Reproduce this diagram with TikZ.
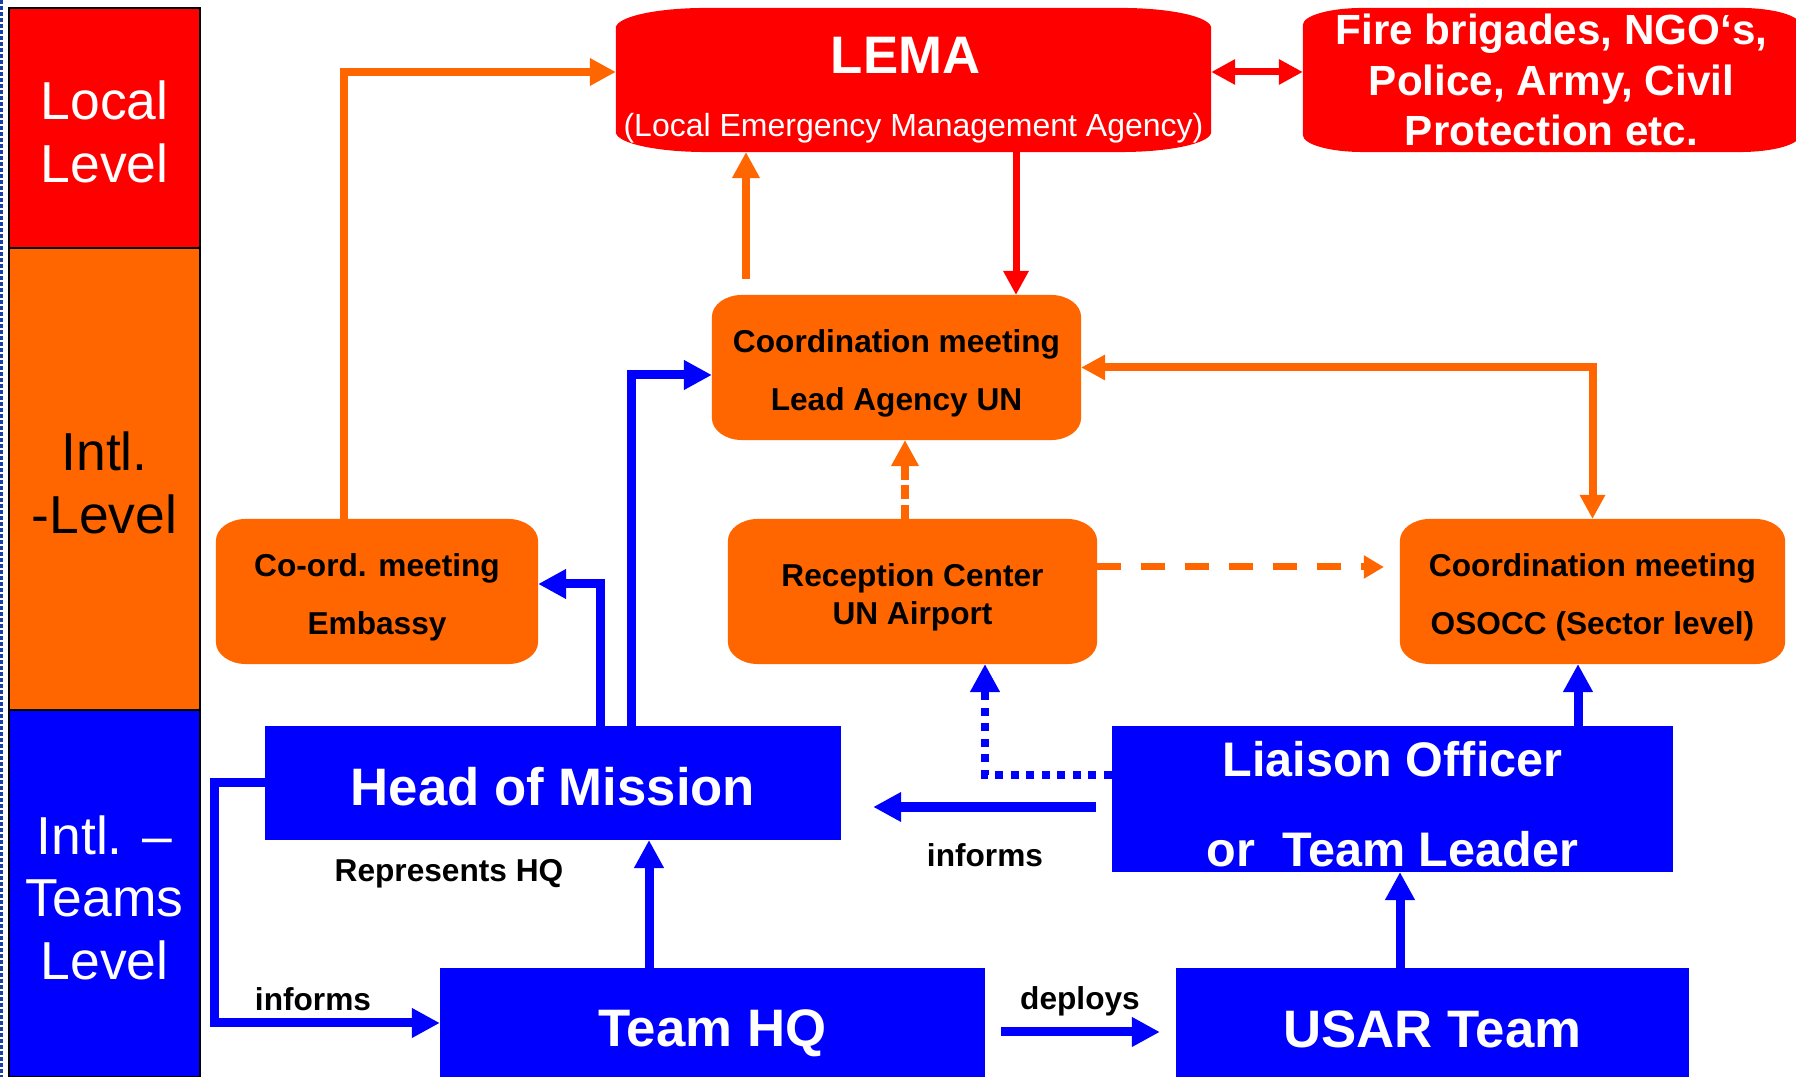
\documentclass[tikz,border=0pt]{standalone}
\usepackage{fontspec}
\setmainfont{Liberation Sans}
\usetikzlibrary{arrows.meta,backgrounds}
\definecolor{lemared}{rgb}{1,0,0}
\definecolor{intlorange}{rgb}{1,0.4,0}
\definecolor{teamblue}{rgb}{0,0,1}
\definecolor{edgeblue}{rgb}{0.1,0.25,0.65}
\tikzstyle{level}=[draw=black, line width=0.02cm, minimum width=1.91cm, inner sep=0pt, outer sep=0pt, align=center, font=\fontsize{15.2}{17.9}\selectfont]
\tikzstyle{box}=[inner sep=0pt, outer sep=0pt, align=center]
\tikzstyle{meeting}=[box, font=\fontsize{9}{16.5}\selectfont\bfseries, minimum height=1.45cm]
\tikzstyle{team}=[box, fill=teamblue, text=white, font=\fontsize{15}{18}\selectfont\bfseries]
\tikzstyle{tag}=[font=\fontsize{9}{11}\selectfont\bfseries, inner sep=0pt]
\tikzstyle{oline}=[draw=intlorange, line width=0.08cm]
\tikzstyle{bline}=[draw=teamblue, line width=0.09cm]
\tikzstyle{oarrow}=[oline, -{Triangle[length=0.26cm,width=0.26cm]}]
\tikzstyle{barrow}=[bline, -{Triangle[length=0.28cm,width=0.28cm]}]
\tikzstyle{rarrow}=[draw=lemared, line width=0.07cm, -{Triangle[length=0.24cm,width=0.24cm]}]
\tikzstyle{twoway}=[{Triangle[length=0.24cm,width=0.24cm]}-{Triangle[length=0.24cm,width=0.24cm]}]
% strut that lowers the first line of a node
\newcommand{\lift}[1]{\rule{0pt}{#1}}
% box with flattened corners, filled behind a node
\newcommand{\canbox}[4]{%
  \fill[#2] ([xshift=#3]#1.north west) -- ([xshift=-#3]#1.north east)
    arc[start angle=90, end angle=0, x radius=#3, y radius=#4]
    -- ([yshift=#4]#1.south east)
    arc[start angle=0, end angle=-90, x radius=#3, y radius=#4]
    -- ([xshift=#3]#1.south west)
    arc[start angle=270, end angle=180, x radius=#3, y radius=#4]
    -- ([yshift=-#4]#1.north west)
    arc[start angle=180, end angle=90, x radius=#3, y radius=#4] -- cycle;}

\begin{document}
\begin{tikzpicture}[x=0.01cm,y=0.01cm]
\useasboundingbox (0,0) rectangle (1796,-1077);

% levels
\draw[edgeblue, line width=0.02cm, dash pattern=on 0.04cm off 0.02cm] (1.5,0) -- (1.5,-1077);
\node[level, fill=lemared, text=white, minimum height=2.40cm] (local) at (104.5,-128) {\lift{13pt}Local\\Level};
\node[level, fill=intlorange, minimum height=4.62cm] (intl) at (104.5,-479) {\lift{13pt}Intl.\\-Level};
\node[level, fill=teamblue, text=white, minimum height=3.67cm] (teams) at (104.5,-893.5) {\lift{13.5pt}Intl. –\\Teams\\Level};

% local level
\node[box, minimum width=5.95cm, minimum height=1.44cm, text=white, font=\fontsize{9.1}{18}\selectfont] (lema) at (913.5,-80) {{\fontsize{15}{18}\selectfont\bfseries\lift{16.3pt}LEMA\kern0.16cm}\\(Local Emergency Management Agency)};
\node[box, minimum width=4.97cm, minimum height=1.44cm, text=white, font=\fontsize{12}{14.4}\selectfont\bfseries] (fire) at (1551.5,-80) {Fire brigades, NGO‘s,\\Police, Army, Civil\\Protection etc.};

% intl level
\node[meeting, minimum width=3.69cm] (coord) at (896.5,-367.5) {\lift{10pt}Coordination meeting\\Lead Agency UN};
\node[meeting, minimum width=3.22cm] (embassy) at (377,-591.5) {\lift{10pt}Co-ord. meeting\\Embassy};
\node[meeting, minimum width=3.69cm, font=\fontsize{9}{10.8}\selectfont\bfseries] (reception) at (912.5,-591.5) {\lift{10pt}Reception Center\\UN Airport};
\node[meeting, minimum width=3.85cm] (osocc) at (1592.5,-591.5) {\lift{10pt}Coordination meeting\\OSOCC (Sector level)};

% teams level
\node[team, minimum width=5.76cm, minimum height=1.14cm] (hom) at (553,-783) {\lift{13pt}Head of Mission};
\node[team, minimum width=5.61cm, minimum height=1.46cm, font=\fontsize{13.8}{25.6}\selectfont\bfseries] (liaison) at (1392.5,-799) {\lift{12.7pt}Liaison Officer\\or\ \ Team Leader};
\node[team, minimum width=5.45cm, minimum height=1.22cm] (teamhq) at (712.5,-1029) {\lift{13pt}Team HQ};
\node[team, minimum width=5.13cm, minimum height=1.22cm] (usar) at (1432.5,-1029) {USAR Team};

\node[tag] (represents) at (449,-874) {Represents HQ};
\node[tag] (informsa) at (985,-855) {informs};
\node[tag] (informsb) at (313,-999) {informs};
\node[tag] (deploys) at (1080,-1001) {deploys};

\begin{scope}[on background layer]
\canbox{lema}{lemared}{0.9cm}{0.2cm}
\canbox{fire}{lemared}{0.6cm}{0.17cm}
\canbox{coord}{intlorange}{0.3cm}{0.22cm}
\canbox{embassy}{intlorange}{0.3cm}{0.22cm}
\canbox{reception}{intlorange}{0.3cm}{0.22cm}
\canbox{osocc}{intlorange}{0.3cm}{0.22cm}
\end{scope}

% connectors
\draw[oarrow] (344,0 |- embassy.north) |- (lema.west |- 0,-72);
\draw[oarrow, shorten <=0.16cm] (746,0 |- coord.north) -- (746,0 |- lema.south);
\draw[rarrow] (1016,0 |- lema.south) -- (1016,0 |- coord.north);
\draw[rarrow, twoway] (lema.east |- 0,-72) -- (fire.west |- 0,-72);
\draw[oline, twoway] (coord.east) -| (osocc.north);
\draw[oarrow, dash pattern=on 0.14cm off 0.055cm] (905,0 |- reception.north) -- (905,0 |- coord.south);
\draw[oarrow, line width=0.07cm, dash pattern=on 0.24cm off 0.2cm, -{Triangle[length=0.2cm,width=0.22cm]}, shorten >=0.16cm] (reception.east |- 0,-567) -- (osocc.west |- 0,-567);
\draw[barrow] (600,0 |- hom.north) |- (embassy.east |- 0,-584);
\draw[barrow] (631,0 |- hom.north) |- (coord.west |- 0,-375);
\draw[barrow] (649,0 |- teamhq.north) -- (649,0 |- hom.south);
\draw[barrow] (hom.west) -- ++(-50,0) |- (teamhq.west |- 0,-1023);
\draw[barrow, line width=0.1cm, shorten <=0.16cm, shorten >=0.32cm] (liaison.west |- 0,-807) -- (hom.east |- 0,-807);
\draw[barrow, line width=0.08cm, dash pattern=on 0.08cm off 0.075cm] (liaison.west |- 0,-775) -| (985,0 |- reception.south);
\draw[barrow] (1578,0 |- liaison.north) -- (1578,0 |- osocc.south);
\draw[barrow] (1400,0 |- usar.north) -- (1400,0 |- liaison.south);
\draw[barrow, shorten <=0.16cm, shorten >=0.16cm] (teamhq.east |- 0,-1032) -- (usar.west |- 0,-1032);
\end{tikzpicture}
\end{document}
